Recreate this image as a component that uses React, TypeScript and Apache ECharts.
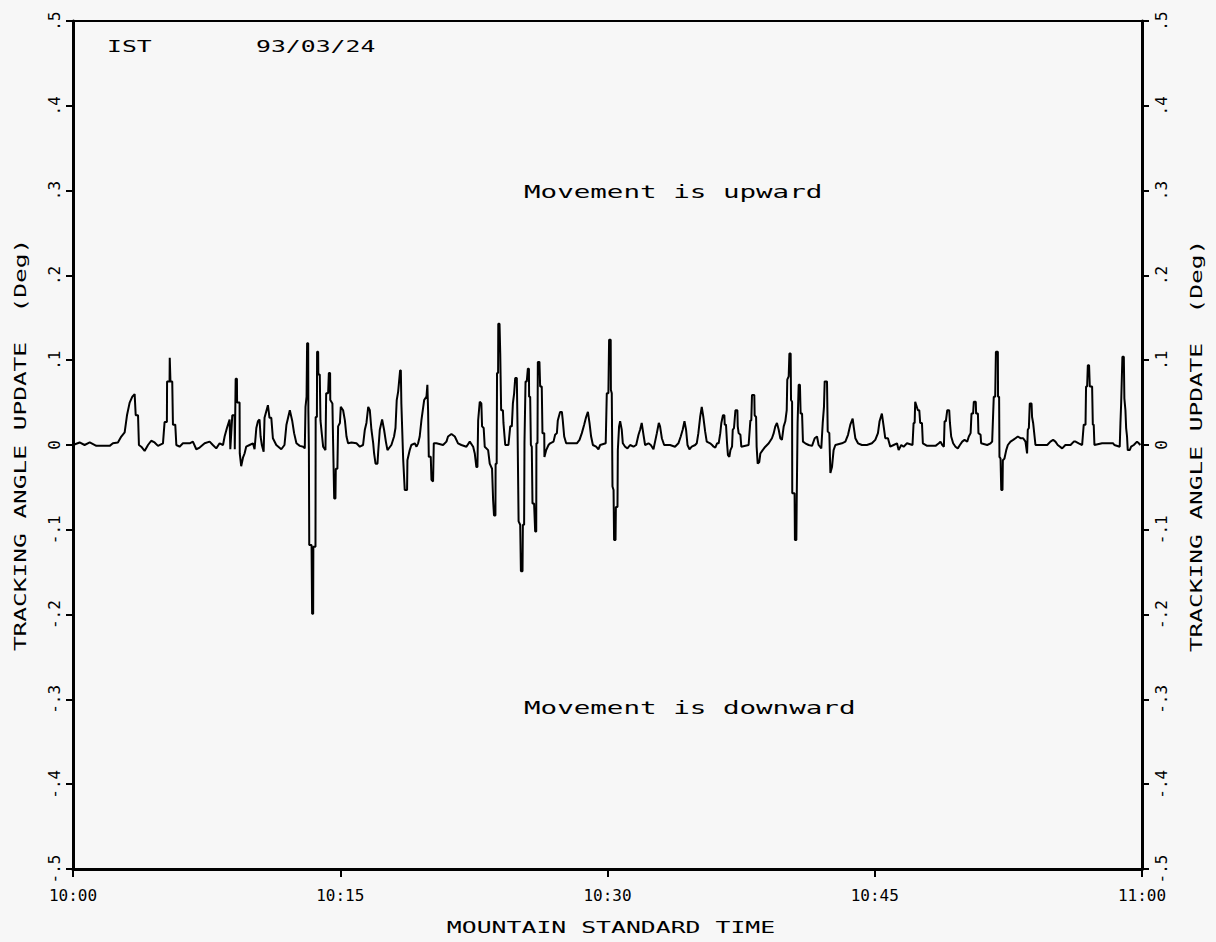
import React, { useEffect, useRef } from "react";
import * as echarts from "echarts";

// Tick labels
const xTickLabels = ["10:00", "10:15", "10:30", "10:45", "11:00"];
const yTickLabels = ["-.5", "-.4", "-.3", "-.2", "-.1", "0", ".1", ".2", ".3", ".4", ".5"];

// Titles / annotations
const xTitle = "MOUNTAIN STANDARD TIME";
const yTitle = "TRACKING ANGLE UPDATE  (Deg)";
const stationLabel = "IST";
const dateLabel = "93/03/24";
const upLabel = "Movement is upward";
const downLabel = "Movement is downward";

// [minutes after 10:00, tracking angle update (deg)]
const trackingSamples: [number, number][] = [
  [0.0, 0], [0.37, 0.003], [0.65, 0], [0.94, 0.003], [1.31, -0.001], [2.06, -0.001], [2.24, 0.002], [2.52, 0.003],
  [2.71, 0.01], [2.9, 0.015], [3.03, 0.035], [3.18, 0.05], [3.33, 0.057], [3.46, 0.06], [3.52, 0.035], [3.65, 0.035],
  [3.7, 0.0], [3.83, -0.002], [4.02, -0.007], [4.21, 0.0], [4.39, 0.005], [4.58, 0.003], [4.77, -0.001], [5.05, 0.002],
  [5.14, 0.027], [5.27, 0.027], [5.28, 0.075], [5.42, 0.075], [5.43, 0.103], [5.46, 0.103], [5.47, 0.075], [5.57, 0.075],
  [5.61, 0.024], [5.74, 0.024], [5.8, 0.0], [5.98, -0.002], [6.17, 0.002], [6.55, 0.002], [6.73, 0.004], [6.92, -0.005],
  [7.11, -0.003], [7.39, 0.002], [7.67, 0.004], [7.85, 0.0], [8.04, -0.004], [8.23, 0.002], [8.42, 0.0], [8.51, 0.01],
  [8.64, 0.02], [8.79, 0.03], [8.83, -0.005], [8.94, 0.035], [9.07, 0.035], [9.08, -0.005], [9.13, 0.078], [9.2, 0.078],
  [9.21, 0.05], [9.35, 0.05], [9.36, -0.01], [9.44, -0.025], [9.54, -0.015], [9.63, -0.01], [9.72, -0.002], [9.91, 0.0],
  [10.1, 0.002], [10.19, -0.005], [10.29, 0.02], [10.38, 0.028], [10.47, 0.03], [10.53, 0.01], [10.6, 0.0], [10.7, -0.008],
  [10.75, 0.032], [10.94, 0.047], [11.03, 0.032], [11.13, 0.032], [11.22, 0.008], [11.41, 0.0], [11.69, -0.005], [11.87, 0.0],
  [11.98, 0.024], [12.17, 0.041], [12.3, 0.029], [12.41, 0.014], [12.54, 0.002], [12.73, -0.001], [12.92, -0.002], [13.01, -0.004],
  [13.05, 0.045], [13.11, 0.057], [13.14, 0.12], [13.2, 0.12], [13.21, 0.041], [13.24, -0.006], [13.26, -0.118], [13.39, -0.118],
  [13.42, -0.199], [13.48, -0.199], [13.49, -0.12], [13.61, -0.12], [13.62, 0.033], [13.69, 0.033], [13.7, 0.11], [13.76, 0.11],
  [13.77, 0.083], [13.85, 0.083], [13.89, 0.029], [13.98, 0.01], [14.04, -0.002], [14.17, -0.006], [14.21, 0.061], [14.32, 0.061],
  [14.36, 0.085], [14.43, 0.085], [14.44, 0.053], [14.56, 0.049], [14.6, 0.002], [14.66, -0.063], [14.73, -0.063], [14.75, -0.028],
  [14.84, -0.028], [14.88, 0.022], [14.98, 0.026], [15.03, 0.045], [15.16, 0.041], [15.26, 0.029], [15.35, 0.01], [15.44, 0.002],
  [15.63, 0.003], [15.91, 0.002], [16.1, -0.002], [16.28, 0.0], [16.38, 0.018], [16.47, 0.026], [16.57, 0.045], [16.66, 0.041],
  [16.75, 0.018], [16.85, 0.002], [16.9, -0.01], [16.98, -0.022], [17.09, -0.022], [17.13, -0.008], [17.22, 0.018], [17.35, 0.03],
  [17.46, 0.018], [17.56, 0.004], [17.65, -0.006], [17.87, 0.0], [18.02, 0.01], [18.1, 0.02], [18.17, 0.053], [18.25, 0.063],
  [18.36, 0.088], [18.4, 0.088], [18.43, 0.049], [18.53, -0.016], [18.62, -0.053], [18.75, -0.053], [18.77, -0.018], [18.9, -0.006],
  [18.99, 0.0], [19.18, 0.002], [19.28, -0.002], [19.37, 0.002], [19.46, 0.01], [19.56, 0.03], [19.71, 0.053], [19.84, 0.057],
  [19.89, 0.071], [19.93, 0.041], [19.97, -0.014], [20.08, -0.014], [20.12, -0.041], [20.21, -0.043], [20.25, 0.002], [20.4, 0.002],
  [20.77, 0.0], [20.96, 0.004], [21.05, 0.01], [21.24, 0.013], [21.43, 0.01], [21.61, 0.002], [21.8, 0.0], [22.08, -0.002],
  [22.27, 0.004], [22.46, -0.002], [22.55, -0.01], [22.64, -0.026], [22.7, -0.026], [22.74, 0.029], [22.83, 0.051], [22.92, 0.049],
  [22.96, 0.022], [23.05, 0.02], [23.11, -0.002], [23.3, -0.006], [23.39, -0.022], [23.52, -0.028], [23.58, -0.065], [23.63, -0.083],
  [23.71, -0.083], [23.72, -0.022], [23.78, -0.022], [23.8, 0.085], [23.86, 0.085], [23.87, 0.143],
  [23.94, 0.143], [23.98, 0.108], [24.03, 0.041], [24.13, 0.041], [24.16, 0.026], [24.26, 0.0], [24.44, 0.0], [24.54, 0.022],
  [24.63, 0.022], [24.69, 0.049], [24.76, 0.061], [24.82, 0.079], [24.91, 0.079], [24.95, 0.022], [25.01, -0.09], [25.1, -0.094],
  [25.14, -0.149], [25.23, -0.149], [25.25, -0.094], [25.32, -0.094], [25.34, 0.002], [25.4, 0.075], [25.47, 0.075], [25.53, 0.09],
  [25.59, 0.09], [25.6, 0.057], [25.66, 0.057], [25.7, 0.0], [25.75, -0.002], [25.79, -0.069], [25.88, -0.069], [25.94, -0.102],
  [26.0, -0.102], [26.01, 0.002], [26.07, 0.002], [26.09, 0.098], [26.18, 0.098], [26.22, 0.069], [26.31, 0.069], [26.35, 0.014],
  [26.45, 0.014], [26.46, -0.014], [26.56, -0.006], [26.69, 0.0], [26.78, 0.002], [26.97, 0.004], [27.06, 0.012], [27.16, 0.014],
  [27.21, 0.029], [27.34, 0.039], [27.44, 0.039], [27.49, 0.029], [27.57, 0.01], [27.68, 0.002], [28.28, 0.002], [28.43, 0.006],
  [28.56, 0.014], [28.69, 0.024], [28.8, 0.033], [28.9, 0.039], [28.99, 0.026], [29.08, 0.01], [29.18, 0.0], [29.36, -0.002],
  [29.49, -0.005], [29.59, 0.0], [29.9, 0.002], [29.96, 0.061], [30.05, 0.061], [30.09, 0.124], [30.18, 0.124], [30.19, 0.065],
  [30.24, 0.061], [30.28, -0.049], [30.34, -0.053], [30.37, -0.112], [30.45, -0.112], [30.47, -0.073], [30.56, -0.073], [30.58, -0.006],
  [30.65, 0.022], [30.71, 0.028], [30.8, 0.018], [30.86, 0.002], [30.99, -0.002], [31.12, -0.004], [31.27, 0.0], [31.46, -0.002],
  [31.61, 0.0], [31.74, 0.012], [31.83, 0.018], [31.92, 0.026], [32.02, 0.012], [32.11, 0.0], [32.3, 0.002], [32.43, 0.0],
  [32.58, -0.005], [32.67, 0.004], [32.77, 0.014], [32.88, 0.026], [32.95, 0.022], [33.05, 0.008], [33.18, 0.0], [33.51, 0.0],
  [33.79, -0.002], [33.98, 0.002], [34.11, 0.01], [34.22, 0.018], [34.32, 0.028], [34.41, 0.018], [34.49, 0.0], [34.6, -0.005],
  [34.73, -0.002], [34.92, 0.0], [35.01, 0.002], [35.1, 0.014], [35.2, 0.033], [35.29, 0.045], [35.38, 0.033], [35.48, 0.016],
  [35.57, 0.004], [35.76, 0.002],
  [35.87, 0.0], [35.96, -0.002], [36.05, -0.003], [36.15, 0.002], [36.24, 0.002], [36.33, 0.014], [36.39, 0.026], [36.48, 0.035],
  [36.56, 0.035], [36.58, 0.024], [36.65, 0.024], [36.71, 0.002], [36.76, -0.012], [36.84, -0.014], [36.9, -0.006], [36.99, -0.002],
  [37.03, 0.018], [37.1, 0.02], [37.18, 0.041], [37.29, 0.041], [37.31, 0.022], [37.36, 0.014], [37.46, 0.012], [37.51, -0.002],
  [37.92, 0.0], [38.02, 0.029], [38.07, 0.029], [38.11, 0.059], [38.24, 0.059], [38.26, 0.035], [38.34, 0.033], [38.37, -0.002],
  [38.43, -0.022], [38.52, -0.02], [38.58, -0.01], [38.71, -0.006], [38.86, -0.002], [39.05, 0.002], [39.23, 0.008], [39.33, 0.014],
  [39.42, 0.022], [39.51, 0.026], [39.61, 0.018], [39.7, 0.008], [39.79, 0.006], [39.89, 0.022], [39.98, 0.028], [40.06, 0.041],
  [40.09, 0.077], [40.17, 0.081], [40.21, 0.108], [40.28, 0.108], [40.3, 0.053], [40.36, 0.051], [40.37, -0.057], [40.5, -0.057],
  [40.52, -0.112], [40.6, -0.112], [40.62, -0.065], [40.67, 0.026], [40.73, 0.071], [40.8, 0.071], [40.84, 0.037], [40.92, 0.037],
  [40.97, 0.004], [41.1, 0.002], [41.29, 0.0], [41.48, -0.001], [41.63, 0.008], [41.76, 0.01], [41.85, 0.0], [42.0, -0.004],
  [42.08, 0.026], [42.15, 0.045], [42.19, 0.075], [42.32, 0.075], [42.36, 0.016], [42.45, 0.014], [42.51, -0.033], [42.6, -0.026],
  [42.69, -0.006], [42.79, 0.0], [43.16, 0.002], [43.35, 0.004], [43.5, 0.012], [43.63, 0.024], [43.76, 0.031], [43.83, 0.02],
  [43.91, 0.008], [44.06, 0.002], [44.28, 0.0], [44.56, 0.0], [44.84, 0.002], [45.03, 0.006], [45.18, 0.014], [45.27, 0.028],
  [45.4, 0.037], [45.5, 0.022], [45.59, 0.008], [45.74, 0.008], [45.87, -0.002], [46.06, 0.0], [46.25, 0.002], [46.34, -0.006],
  [46.49, 0.0], [46.62, -0.002], [46.81, 0.002], [47.12, 0.0], [47.18, 0.026], [47.24, 0.026], [47.27, 0.051], [47.42, 0.041],
  [47.5, 0.041], [47.55, 0.026], [47.65, 0.026], [47.7, 0.002],
  [47.94, -0.001], [48.41, -0.001], [48.6, 0.002], [48.69, 0.004], [48.79, 0.0], [48.88, -0.002], [48.92, 0.028], [48.99, 0.028],
  [49.07, 0.041], [49.18, 0.041], [49.22, 0.026], [49.29, 0.01], [49.4, 0.002], [49.53, -0.002], [49.66, -0.004], [49.78, 0.0],
  [49.91, 0.004], [50.04, 0.006], [50.19, 0.004], [50.28, 0.01], [50.38, 0.014], [50.43, 0.037], [50.52, 0.037], [50.56, 0.051],
  [50.67, 0.051], [50.69, 0.037], [50.79, 0.037], [50.82, 0.014], [50.94, 0.012], [50.97, 0.002], [51.31, 0.0], [51.5, 0.002],
  [51.59, 0.004], [51.68, 0.057], [51.76, 0.057], [51.8, 0.11], [51.91, 0.11], [51.92, 0.057], [51.98, 0.057], [52.0, -0.014],
  [52.06, -0.016], [52.1, -0.053], [52.17, -0.053], [52.19, -0.018], [52.28, -0.016], [52.38, -0.006], [52.47, 0.0], [52.62, 0.004],
  [52.77, 0.006], [52.9, 0.008], [53.03, 0.01], [53.18, 0.008], [53.33, 0.008], [53.46, 0.004], [53.55, -0.01], [53.59, 0.018],
  [53.65, 0.02], [53.7, 0.049], [53.8, 0.049], [53.83, 0.033], [53.89, 0.026], [53.97, 0.01], [54.02, 0.0], [54.68, 0.0],
  [54.86, 0.004], [55.01, 0.006], [55.14, 0.004], [55.27, 0.0], [55.52, -0.004], [55.7, 0.0], [55.99, 0.0], [56.17, 0.004],
  [56.27, 0.004], [56.45, 0.002], [56.64, 0.0], [56.73, 0.024], [56.83, 0.024], [56.86, 0.069], [56.92, 0.069], [56.96, 0.094],
  [57.03, 0.094], [57.07, 0.069], [57.2, 0.069], [57.24, 0.024], [57.29, 0.024], [57.33, 0.0], [57.76, 0.002], [58.38, 0.002],
  [58.45, 0.0], [58.75, -0.002], [58.79, 0.026], [58.83, 0.049], [58.9, 0.104], [58.98, 0.104], [59.01, 0.055], [59.07, 0.041],
  [59.11, 0.02], [59.16, 0.01], [59.2, -0.006], [59.31, -0.006], [59.39, -0.002], [59.54, 0.0], [59.72, 0.004], [59.82, 0.002],
  [59.91, 0.0],
];

const FONT = "'DejaVu Sans Mono', monospace";

function yAxisDef(position: "left" | "right") {
  return {
    type: "value",
    position,
    min: -0.5,
    max: 0.5,
    interval: 0.1,
    axisLine: { show: true, onZero: false, lineStyle: { color: "#000", width: 3 } },
    axisTick: { show: true, length: 7, lineStyle: { color: "#000", width: 2 } },
    axisLabel: {
      rotate: 90,
      margin: 11,
      color: "#000",
      fontFamily: FONT,
      fontSize: 16,
      formatter: (v: number) => yTickLabels[Math.round(v * 10) + 5],
    },
    splitLine: { show: false },
  };
}

export default function App() {
  const ref = useRef<HTMLDivElement>(null);

  useEffect(() => {
    if (!ref.current) return;
    const chart = echarts.init(ref.current, null, { renderer: "svg" });
    const textBase = { fill: "#000", fontFamily: FONT };
    chart.setOption({
      animation: false,
      backgroundColor: "#f7f7f7",
      textStyle: { fontFamily: FONT, color: "#000" },
      grid: {
        left: 73,
        right: 74,
        top: 21,
        bottom: 73,
        show: true,
        borderColor: "#000",
        borderWidth: 2,
        backgroundColor: "transparent",
      },
      xAxis: {
        type: "value",
        min: 0,
        max: 60,
        interval: 15,
        axisLine: { show: true, onZero: false, lineStyle: { color: "#000", width: 3 } },
        axisTick: { show: true, length: 8, lineStyle: { color: "#000", width: 2 } },
        axisLabel: {
          margin: 18,
          color: "#000",
          fontFamily: FONT,
          fontSize: 16,
          formatter: (v: number) => xTickLabels[Math.round(v / 15)],
        },
        splitLine: { show: false },
      },
      yAxis: [yAxisDef("left"), yAxisDef("right")],
      series: [
        {
          type: "line",
          yAxisIndex: 0,
          data: trackingSamples.map((p) => [p[0], p[1]]),
          showSymbol: false,
          symbol: "none",
          lineStyle: { color: "#000", width: 2 },
        },
      ],
      graphic: [
        {
          type: "text",
          x: 107,
          y: 47,
          scaleX: 1.55,
          style: { ...textBase, text: stationLabel, fontSize: 16, textAlign: "left", textVerticalAlign: "middle" },
        },
        {
          type: "text",
          x: 256,
          y: 47,
          scaleX: 1.55,
          style: { ...textBase, text: dateLabel, fontSize: 16, textAlign: "left", textVerticalAlign: "middle" },
        },
        {
          type: "text",
          x: 524,
          y: 192,
          scaleX: 1.62,
          style: { ...textBase, text: upLabel, fontSize: 17, textAlign: "left", textVerticalAlign: "middle" },
        },
        {
          type: "text",
          x: 524,
          y: 708,
          scaleX: 1.62,
          style: { ...textBase, text: downLabel, fontSize: 17, textAlign: "left", textVerticalAlign: "middle" },
        },
        {
          type: "text",
          x: 611,
          y: 928,
          scaleX: 1.55,
          style: { ...textBase, text: xTitle, fontSize: 16, textAlign: "center", textVerticalAlign: "middle" },
        },
        {
          type: "text",
          x: 21,
          y: 445,
          rotation: Math.PI / 2,
          scaleX: 1.53,
          style: { ...textBase, text: yTitle, fontSize: 16, textAlign: "center", textVerticalAlign: "middle" },
        },
        {
          type: "text",
          x: 1197,
          y: 446,
          rotation: Math.PI / 2,
          scaleX: 1.53,
          style: { ...textBase, text: yTitle, fontSize: 16, textAlign: "center", textVerticalAlign: "middle" },
        },
      ],
    });
    return () => chart.dispose();
  }, []);

  return (
    <div
      ref={ref}
      style={{ position: "fixed", left: 0, top: 0, width: 1216, height: 942 }}
    />
  );
}
